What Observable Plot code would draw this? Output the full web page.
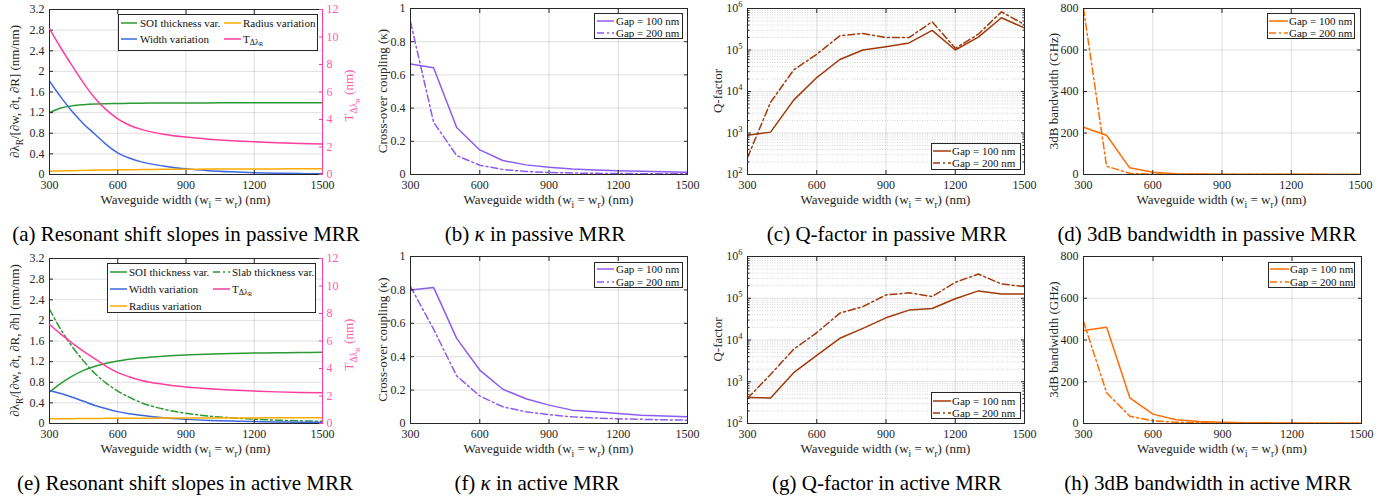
<!DOCTYPE html>
<html><head><meta charset="utf-8">
<script src="https://cdn.jsdelivr.net/npm/d3@7"></script>
<script src="https://cdn.jsdelivr.net/npm/@observablehq/plot@0.6"></script>
<style>
body{margin:0;background:#fff;}
#fig{position:relative;width:1395px;height:497px;font-family:"Liberation Serif","Times New Roman",serif;color:#262626;overflow:hidden;background:#fff;}
#fig svg{position:absolute;overflow:visible;}
.legend{position:absolute;border:1px solid #262626;background:#fff;box-sizing:border-box;}
.lg-item{position:absolute;font-size:11px;line-height:1;white-space:nowrap;transform:translateY(-50%);color:#111;}
.lg-item sub{font-size:75%;vertical-align:-0.25em;line-height:0;}
.lg-item sub sub{font-size:75%;}
.caption{position:absolute;font-size:21px;line-height:1;white-space:nowrap;transform:translateX(-50%);color:#000;}
</style></head><body><div id="fig"></div>
<script>
// ---------------- data ----------------
const xTicks = [300, 600, 900, 1200, 1500];
const wSmooth = [300,350,400,450,500,550,600,650,700,800,900,1000,1100,1200,1300,1400,1500];
const wStep = [300,400,500,600,700,800,900,1000,1100,1200,1300,1400,1500];

// (a) passive resonant shift slopes
const aSOI    = [1.20,1.29,1.335,1.355,1.366,1.372,1.377,1.380,1.383,1.386,1.388,1.389,1.39,1.39,1.39,1.39,1.39];
const aWidth  = [1.81,1.50,1.22,0.98,0.78,0.58,0.42,0.32,0.25,0.165,0.11,0.075,0.052,0.036,0.026,0.018,0.012];
const aRadius = [0.065,0.07,0.075,0.08,0.085,0.088,0.09,0.093,0.095,0.10,0.103,0.105,0.107,0.108,0.109,0.11,0.11];
const aT      = [10.6,9.2,7.9,6.65,5.55,4.7,4.05,3.6,3.3,2.93,2.72,2.57,2.46,2.38,2.31,2.26,2.22];
// (e) active resonant shift slopes
const eSOI    = [0.61,0.78,0.92,1.03,1.11,1.17,1.21,1.245,1.27,1.305,1.33,1.345,1.357,1.365,1.372,1.377,1.38];
const eSlab   = [2.22,1.82,1.49,1.21,0.97,0.78,0.63,0.51,0.41,0.28,0.20,0.145,0.11,0.085,0.065,0.052,0.043];
const eWidth  = [0.64,0.58,0.51,0.43,0.35,0.285,0.23,0.19,0.16,0.11,0.08,0.06,0.048,0.038,0.03,0.025,0.02];
const eRadius = [0.09,0.092,0.094,0.096,0.098,0.1,0.101,0.102,0.103,0.105,0.106,0.107,0.108,0.109,0.11,0.11,0.11];
const eT      = [7.2,6.5,5.85,5.25,4.7,4.15,3.7,3.4,3.15,2.85,2.65,2.52,2.43,2.36,2.3,2.26,2.24];

// (b) kappa passive, (f) kappa active
const b100 = [0.665,0.643,0.283,0.148,0.084,0.058,0.043,0.033,0.027,0.022,0.019,0.016,0.014];
const b200 = [0.92,0.315,0.114,0.056,0.03,0.018,0.012,0.009,0.007,0.006,0.005,0.005,0.004];
const f100 = [0.80,0.815,0.51,0.32,0.205,0.148,0.11,0.08,0.07,0.06,0.05,0.045,0.04];
const f200 = [0.82,0.565,0.285,0.165,0.10,0.07,0.053,0.04,0.033,0.028,0.025,0.022,0.02];
// (c) Q passive, (g) Q active
const c100 = [880,1050,6200,21700,59000,100000,120000,148000,296000,100000,205000,600000,340000];
const c200 = [257,5500,33000,79000,220000,250000,200000,200000,480000,110000,240000,830000,410000];
const g100 = [420,410,1650,4300,11000,19000,34000,52000,57000,97000,150000,126000,126000];
const g200 = [400,1500,6000,15000,44000,63000,120000,135000,110000,240000,380000,220000,190000];
// (d) 3dB BW passive, (h) active
const d100 = [228,189,32,11,4,2,1.5,1.2,1,0.8,0.7,0.6,0.5];
const d200 = [800,40,6,2,1,0.7,0.5,0.4,0.3,0.3,0.3,0.2,0.2];
const h100 = [445,461,123,45,18,10,6,4,3,2,1.5,1.2,1];
const h200 = [489,147,35,13,6,4,2.5,2,1.5,1.2,1,0.8,0.6];

const slopeTicks = [0,0.4,0.8,1.2,1.6,2,2.4,2.8,3.2];
const tTicks = [0,2,4,6,8,10,12];
const kappaTicks = [0,0.2,0.4,0.6,0.8,1];
const qTicks = [1e2,1e3,1e4,1e5,1e6];
const qMinor = [2,3,4,5,6,7,8,9].flatMap(m => [1e2,1e3,1e4,1e5].map(p => m*p));
const bwTicks = [0,200,400,600,800];

// ---------------- style ----------------
const FONT = '"Liberation Serif","Times New Roman",serif';
const AX = "#262626";
const GREEN = "#2c9a34", BLUE = "#3d68e0", GOLD = "#ffaa00", PINK = "#ff3d9e", PINKTXT = "#ff5aad";
const PURPLE = "#8c5cf2", BROWN = "#a13a0b", ORANGE = "#ff6d00";
const DASHDOT = "7,3,2,3";
const fig = document.getElementById("fig");
const numFmt = v => String(Math.round(v * 10) / 10);

function addLabel(svg, {x, y, rotate = 0, anchor = "middle", size = 13, fill = AX, parts}) {
  const t = d3.select(svg).append("text")
    .attr("transform", `translate(${x},${y}) rotate(${rotate})`)
    .attr("text-anchor", anchor).attr("font-size", size).attr("fill", fill)
    .attr("font-family", FONT).style("white-space", "pre");
  let shift = 0;
  for (const p of parts) {
    const lvl = p.sub || 0;
    const target = lvl === 0 ? 0 : lvl === 1 ? size * 0.32 : size * 0.58;
    const fs = lvl === 0 ? size : lvl === 1 ? size * 0.72 : size * 0.55;
    t.append("tspan").attr("dy", target - shift).attr("font-size", fs).text(p.t);
    shift = target;
  }
}

function superscriptTicks(svg) {
  d3.select(svg).selectAll("text").each(function() {
    const s = this.textContent;
    if (s.startsWith("10^")) {
      const e = s.slice(3);
      this.textContent = "";
      const t = d3.select(this);
      t.append("tspan").text("10");
      t.append("tspan").attr("dy", -5).attr("font-size", 8.5).text(e);
    }
  });
}

const ML = 60, MR = 45, MT = 6, MB = 40;
const STYLE = {fontFamily: FONT, fontSize: "12px", color: AX, background: "transparent", overflow: "visible"};

function makePanel(p) {
  const W = p.w + ML + MR, H = p.h + MT + MB;
  const marks = [
    Plot.gridX(xTicks, {stroke: AX, strokeOpacity: 0.15}),
    Plot.gridY(p.yTicks, {stroke: AX, strokeOpacity: 0.15})
  ];
  if (p.minor) marks.push(Plot.gridY(p.minor, {stroke: AX, strokeOpacity: 0.2, strokeDasharray: "1,1.5"}));
  for (const s of p.series) {
    marks.push(Plot.line(s.x.map((v, i) => ({x: v, y: s.y[i]})), {
      x: "x", y: "y", stroke: s.color, strokeWidth: 1.5,
      strokeDasharray: s.dash, curve: s.curve || "linear", clip: true
    }));
  }
  marks.push(Plot.frame({stroke: AX}));
  marks.push(Plot.axisX(xTicks, {anchor: "bottom", tickSize: 0, tickPadding: 6, tickFormat: d => String(d), label: null}));
  marks.push(Plot.axisX(xTicks, {anchor: "bottom", tickSize: -4, tickFormat: () => "", label: null}));
  marks.push(Plot.axisX(xTicks, {anchor: "top", tickSize: -4, tickFormat: () => "", label: null}));
  marks.push(Plot.axisY(p.yTicks, {anchor: "left", tickSize: 0, tickPadding: 5, tickFormat: p.yFormat, label: null}));
  marks.push(Plot.axisY(p.yTicks, {anchor: "left", tickSize: -4, tickFormat: () => "", label: null}));
  if (!p.dual) marks.push(Plot.axisY(p.yTicks, {anchor: "right", tickSize: -4, tickFormat: () => "", label: null}));
  if (p.minor) {
    marks.push(Plot.axisY(p.minor, {anchor: "left", tickSize: -2.5, tickFormat: () => "", label: null}));
    marks.push(Plot.axisY(p.minor, {anchor: "right", tickSize: -2.5, tickFormat: () => "", label: null}));
  }
  const svg = Plot.plot({
    width: W, height: H, marginLeft: ML, marginRight: MR, marginTop: MT, marginBottom: MB,
    x: {domain: [300, 1500]},
    y: {type: p.yType || "linear", domain: p.yDomain},
    style: STYLE,
    marks
  });
  svg.style.left = (p.x - ML) + "px";
  svg.style.top = (p.y - MT) + "px";
  fig.appendChild(svg);
  if (p.yType === "log") superscriptTicks(svg);
  addLabel(svg, {x: ML + p.w / 2, y: MT + p.h + 30, parts: [
    {t: "Waveguide width (w"}, {t: "i", sub: 1}, {t: " = w"}, {t: "r", sub: 1}, {t: ") (nm)"}]});
  addLabel(svg, {x: ML - p.yOff, y: MT + p.h / 2, rotate: -90, parts: p.yParts});

  if (p.dual) {
    const marks2 = [
      Plot.line(p.dual.x.map((v, i) => ({x: v, y: p.dual.y[i]})), {x: "x", y: "y", stroke: PINK, strokeWidth: 1.5, curve: "monotone-x"}),
      Plot.ruleX([1500], {stroke: PINK}),
      Plot.axisY(tTicks, {anchor: "right", tickSize: 0, tickPadding: 4, tickFormat: d => String(d), label: null, color: PINKTXT}),
      Plot.axisY(tTicks, {anchor: "right", tickSize: -4, tickFormat: () => "", label: null, color: PINK})
    ];
    const svg2 = Plot.plot({
      width: W, height: H, marginLeft: ML, marginRight: MR, marginTop: MT, marginBottom: MB,
      x: {domain: [300, 1500], axis: null}, y: {domain: [0, 12]},
      style: STYLE,
      marks: marks2
    });
    svg2.style.left = (p.x - ML) + "px";
    svg2.style.top = (p.y - MT) + "px";
    fig.appendChild(svg2);
    addLabel(svg2, {x: ML + p.w + 30.5, y: MT + p.h / 2 + 4, rotate: -90, fill: PINKTXT, parts: [
      {t: "T"}, {t: "Δλ", sub: 1}, {t: "R", sub: 2}, {t: " (nm)"}]});
  }
}

function legend(box, items) {
  const d = document.createElement("div");
  d.className = "legend";
  Object.assign(d.style, {left: box.x + "px", top: box.y + "px", width: box.w + "px", height: box.h + "px"});
  fig.appendChild(d);
  for (const it of items) {
    const ns = "http://www.w3.org/2000/svg";
    const s = document.createElementNS(ns, "svg");
    s.setAttribute("width", it.s2 - it.s1); s.setAttribute("height", 4);
    s.style.position = "absolute";
    s.style.left = (it.s1 - box.x - 1) + "px"; s.style.top = (it.y - box.y - 3) + "px";
    const l = document.createElementNS(ns, "line");
    l.setAttribute("x1", 0); l.setAttribute("x2", it.s2 - it.s1); l.setAttribute("y1", 2); l.setAttribute("y2", 2);
    l.setAttribute("stroke", it.color); l.setAttribute("stroke-width", 1.5);
    if (it.dash) l.setAttribute("stroke-dasharray", it.dash);
    s.appendChild(l);
    d.appendChild(s);
    const t = document.createElement("div");
    t.className = "lg-item";
    t.style.left = (it.tx - box.x - 1) + "px"; t.style.top = (it.y - box.y - 1) + "px";
    t.innerHTML = it.html;
    d.appendChild(t);
  }
}

function caption(cx, cy, html) {
  const d = document.createElement("div");
  d.className = "caption";
  d.style.left = cx + "px"; d.style.top = (cy - 10) + "px";
  d.innerHTML = html;
  fig.appendChild(d);
}

// ---------------- panels ----------------
const slopeA = [{t: "∂λ"}, {t: "R", sub: 1}, {t: "/[∂w, ∂t, ∂R] (nm/nm)"}];
const slopeE = [{t: "∂λ"}, {t: "R", sub: 1}, {t: "/[∂w, ∂t, ∂R, ∂h] (nm/nm)"}];

makePanel({x: 49, y: 9, w: 273, h: 165, yDomain: [0, 3.2], yTicks: slopeTicks, yFormat: numFmt, yOff: 30, yParts: slopeA,
  series: [
    {x: wSmooth, y: aSOI, color: GREEN, curve: "monotone-x"},
    {x: wSmooth, y: aWidth, color: BLUE, curve: "monotone-x"},
    {x: wSmooth, y: aRadius, color: GOLD, curve: "monotone-x"}
  ], dual: {x: wSmooth, y: aT}});
makePanel({x: 410, y: 8, w: 277, h: 166, yDomain: [0, 1], yTicks: kappaTicks, yFormat: numFmt, yOff: 23,
  yParts: [{t: "Cross-over coupling ("}, {t: "κ"}, {t: ")"}],
  series: [{x: wStep, y: b100, color: PURPLE}, {x: wStep, y: b200, color: PURPLE, dash: DASHDOT}]});
makePanel({x: 747, y: 8, w: 277, h: 166, yType: "log", yDomain: [1e2, 1e6], yTicks: qTicks, minor: qMinor,
  yFormat: d => "10^" + Math.round(Math.log10(d)), yOff: 25, yParts: [{t: "Q-factor"}],
  series: [{x: wStep, y: c100, color: BROWN}, {x: wStep, y: c200, color: BROWN, dash: DASHDOT}]});
makePanel({x: 1083, y: 8, w: 277, h: 166, yDomain: [0, 800], yTicks: bwTicks, yFormat: d => String(d), yOff: 25.5,
  yParts: [{t: "3dB bandwidth (GHz)"}],
  series: [{x: wStep, y: d100, color: ORANGE}, {x: wStep, y: d200, color: ORANGE, dash: DASHDOT}]});

makePanel({x: 49, y: 258, w: 273, h: 165, yDomain: [0, 3.2], yTicks: slopeTicks, yFormat: numFmt, yOff: 30, yParts: slopeE,
  series: [
    {x: wSmooth, y: eSOI, color: GREEN, curve: "monotone-x"},
    {x: wSmooth, y: eSlab, color: GREEN, dash: DASHDOT, curve: "monotone-x"},
    {x: wSmooth, y: eWidth, color: BLUE, curve: "monotone-x"},
    {x: wSmooth, y: eRadius, color: GOLD, curve: "monotone-x"}
  ], dual: {x: wSmooth, y: eT}});
makePanel({x: 410, y: 256, w: 277, h: 167, yDomain: [0, 1], yTicks: kappaTicks, yFormat: numFmt, yOff: 23,
  yParts: [{t: "Cross-over coupling ("}, {t: "κ"}, {t: ")"}],
  series: [{x: wStep, y: f100, color: PURPLE}, {x: wStep, y: f200, color: PURPLE, dash: DASHDOT}]});
makePanel({x: 747, y: 256, w: 277, h: 167, yType: "log", yDomain: [1e2, 1e6], yTicks: qTicks, minor: qMinor,
  yFormat: d => "10^" + Math.round(Math.log10(d)), yOff: 25, yParts: [{t: "Q-factor"}],
  series: [{x: wStep, y: g100, color: BROWN}, {x: wStep, y: g200, color: BROWN, dash: DASHDOT}]});
makePanel({x: 1083, y: 256, w: 278, h: 167, yDomain: [0, 800], yTicks: bwTicks, yFormat: d => String(d), yOff: 25.5,
  yParts: [{t: "3dB bandwidth (GHz)"}],
  series: [{x: wStep, y: h100, color: ORANGE}, {x: wStep, y: h200, color: ORANGE, dash: DASHDOT}]});

// ---------------- legends ----------------
const T_HTML = "T<sub>Δλ<sub>R</sub></sub>";
legend({x: 118, y: 14, w: 200, h: 37}, [
  {s1: 121, s2: 137, tx: 140, y: 23, color: GREEN, html: "SOI thickness var."},
  {s1: 121, s2: 137, tx: 140, y: 39, color: BLUE, html: "Width variation"},
  {s1: 224, s2: 241, tx: 243, y: 23, color: GOLD, html: "Radius variation"},
  {s1: 224, s2: 241, tx: 243, y: 39, color: PINK, html: T_HTML}
]);
legend({x: 107, y: 263, w: 209, h: 50}, [
  {s1: 110, s2: 127, tx: 129, y: 272, color: GREEN, html: "SOI thickness var."},
  {s1: 110, s2: 127, tx: 129, y: 289, color: BLUE, html: "Width variation"},
  {s1: 110, s2: 127, tx: 129, y: 306, color: GOLD, html: "Radius variation"},
  {s1: 213, s2: 230, tx: 232, y: 272, color: GREEN, dash: DASHDOT, html: "Slab thickness var."},
  {s1: 213, s2: 230, tx: 232, y: 289, color: PINK, html: T_HTML}
]);
function gapLegend(box, color, r1, r2, s1, s2, tx) {
  legend(box, [
    {s1, s2, tx, y: r1, color, html: "Gap = 100 nm"},
    {s1, s2, tx, y: r2, color, dash: DASHDOT, html: "Gap = 200 nm"}
  ]);
}
gapLegend({x: 594, y: 13, w: 89, h: 26}, PURPLE, 20.7, 32.7, 597, 614, 616);
gapLegend({x: 931, y: 143, w: 90, h: 27}, BROWN, 150.7, 163.3, 933, 951, 952);
gapLegend({x: 1267, y: 13, w: 88, h: 26}, ORANGE, 20.7, 32.7, 1269, 1288, 1289);
gapLegend({x: 594, y: 262, w: 89, h: 26}, PURPLE, 269, 282, 597, 614, 616);
gapLegend({x: 931, y: 392, w: 90, h: 27}, BROWN, 400.7, 412.5, 933, 951, 952);
gapLegend({x: 1268, y: 262, w: 87, h: 26}, ORANGE, 269, 282, 1270, 1289, 1290);

// ---------------- captions ----------------
caption(186, 234, "(a) Resonant shift slopes in passive MRR");
caption(535, 234, "(b) <i>κ</i> in passive MRR");
caption(887, 234, "(c) Q-factor in passive MRR");
caption(1207, 234, "(d) 3dB bandwidth in passive MRR");
caption(185, 483, "(e) Resonant shift slopes in active MRR");
caption(537, 483, "(f) <i>κ</i> in active MRR");
caption(887, 483, "(g) Q-factor in active MRR");
caption(1208, 483, "(h) 3dB bandwidth in active MRR");
</script></body></html>
